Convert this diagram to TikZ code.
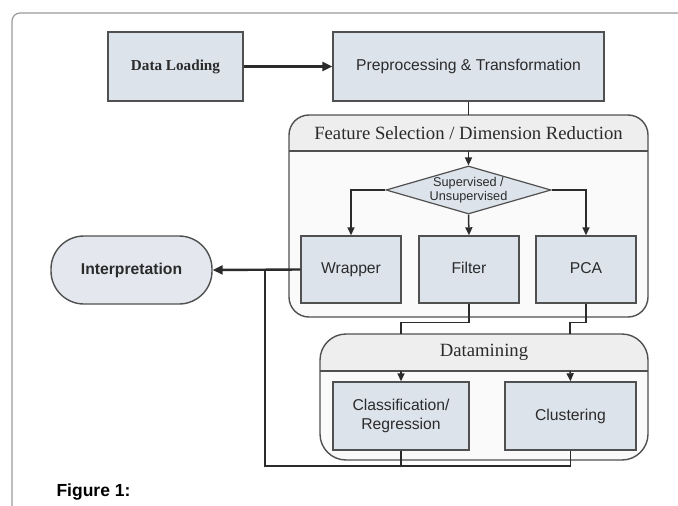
\documentclass[tikz,border=0pt]{standalone}
\usepackage{fontspec}
\setmainfont{Liberation Sans}
\newfontfamily\headfont{Liberation Serif}
\usepackage{xcolor}
\usetikzlibrary{arrows.meta,shapes.geometric,positioning}
\definecolor{boxfill}{HTML}{DDE3EB}
\definecolor{pillfill}{HTML}{E4E8EE}
\definecolor{boxline}{HTML}{505050}
\definecolor{lanefill}{HTML}{FAFAFA}
\definecolor{lanehead}{HTML}{EEEEEE}
\definecolor{framegray}{HTML}{9A9A9A}
\definecolor{inkgray}{HTML}{2B2B2B}

\begin{document}
\begin{tikzpicture}[x=1pt,y=-1pt,>={Triangle[length=8pt,width=7pt]},
procbox/.style={draw=boxline,line width=1.4pt,fill=boxfill,text=inkgray,align=center,
  inner sep=2pt,font=\fontsize{15.7}{19}\selectfont},
oneline/.style={text height=11.5pt,text depth=3.3pt},
pill/.style={procbox,oneline,fill=pillfill,rounded corners=33pt,font=\fontsize{15.7}{19}\selectfont\bfseries},
decision/.style={draw=boxline,line width=1.2pt,fill=boxfill,shape=diamond,aspect=3.45,inner sep=0pt,
  align=center,text=inkgray,font=\fontsize{12.7}{13.5}\selectfont},
lane/.style={draw=boxline,line width=1.4pt},
lanetitle/.style={text=inkgray,font=\headfont\fontsize{18.7}{22}\selectfont},
conn/.style={draw=inkgray,line width=1.5pt},
thickconn/.style={draw=inkgray,line width=2.4pt,>={Triangle[length=10pt,width=9pt]}}]
\useasboundingbox (0,0) rectangle (678,506);
\draw[framegray,line width=1.2pt,rounded corners=8pt](12,506)--(12,13)--(678,13);

% top row
\node[procbox,oneline,minimum width=135pt,minimum height=69pt,font=\headfont\fontsize{15.2}{18}\selectfont\bfseries](load) at (175.5,66.5){Data Loading};
\node[procbox,oneline,minimum width=271pt,minimum height=69pt](prep) at (468.5,66.5){Preprocessing \& Transformation};

% feature selection lane
\fill[lanefill,rounded corners=20pt](289,115) rectangle (648,317);
\begin{scope}
\clip[rounded corners=20pt](289,115) rectangle (648,317);
\fill[lanehead](289,115) rectangle (648,151);
\end{scope}
\draw[lane,rounded corners=20pt](289,115) rectangle (648,317);
\draw[lane](289,151)--(648,151);
\node[lanetitle](fselhead) at (468.5,133){Feature Selection / Dimension Reduction};
\coordinate (fseltop) at (468.5,115);
\coordinate (fselsep) at (468.5,151);

\node[decision,minimum width=164pt,minimum height=48pt](dec) at (468.5,190){Supervised /\\Unsupervised};
\node[procbox,oneline,minimum width=100pt,minimum height=67pt](wrap) at (351,269.5){Wrapper};
\node[procbox,oneline,minimum width=100pt,minimum height=67pt](filt) at (469,269.5){Filter};
\node[procbox,oneline,minimum width=100pt,minimum height=67pt](pca) at (586,269.5){PCA};
\node[pill,minimum width=161pt,minimum height=68pt](interp) at (131.5,270){Interpretation};

% datamining lane
\fill[lanefill,rounded corners=26pt](320,334) rectangle (648,460);
\begin{scope}
\clip[rounded corners=26pt](320,334) rectangle (648,460);
\fill[lanehead](320,334) rectangle (648,371);
\end{scope}
\draw[lane,rounded corners=26pt](320,334) rectangle (648,460);
\draw[lane](320,371)--(648,371);
\node[lanetitle](dmhead) at (484,352.5){Datamining};
\coordinate (dmtopa) at (401,334);
\coordinate (dmtopb) at (570,334);
\coordinate (dmsepa) at (401,371);
\coordinate (dmsepb) at (570,371);

\node[procbox,minimum width=136pt,minimum height=68pt](class) at (401,416){Classification/\\Regression};
\node[procbox,oneline,minimum width=131pt,minimum height=68pt](clus) at (570.5,416){Clustering};
\coordinate (loopbase) at (265,466);

% connectors
\draw[thickconn,->](load)--(prep);
\draw[conn](prep.south)--(fseltop);
\draw[conn,->](fselsep)--(dec.north);
\draw[conn,->](dec.west)-|(wrap.north);
\draw[conn,->](dec.south)--(filt.north);
\draw[conn,->](dec.east)-|(pca.north);
\draw[thickconn,->](wrap.west)--(interp.east);
\draw[conn](filt.south)--++(0,19)-|(dmtopa);
\draw[conn](pca.south)--++(0,19)-|(dmtopb);
\draw[conn,->](dmsepa)--(class.north);
\draw[conn,->](dmsepb)--(clus.north);
\draw[conn](class.south)--(class.south|-loopbase);
\draw[conn](clus.south)|-(loopbase)--(loopbase|-interp.east);

\node[anchor=base west,font=\fontsize{17.5}{20}\selectfont\bfseries,text=black](cap) at (53,496){Figure 1:};
\end{tikzpicture}
\end{document}
